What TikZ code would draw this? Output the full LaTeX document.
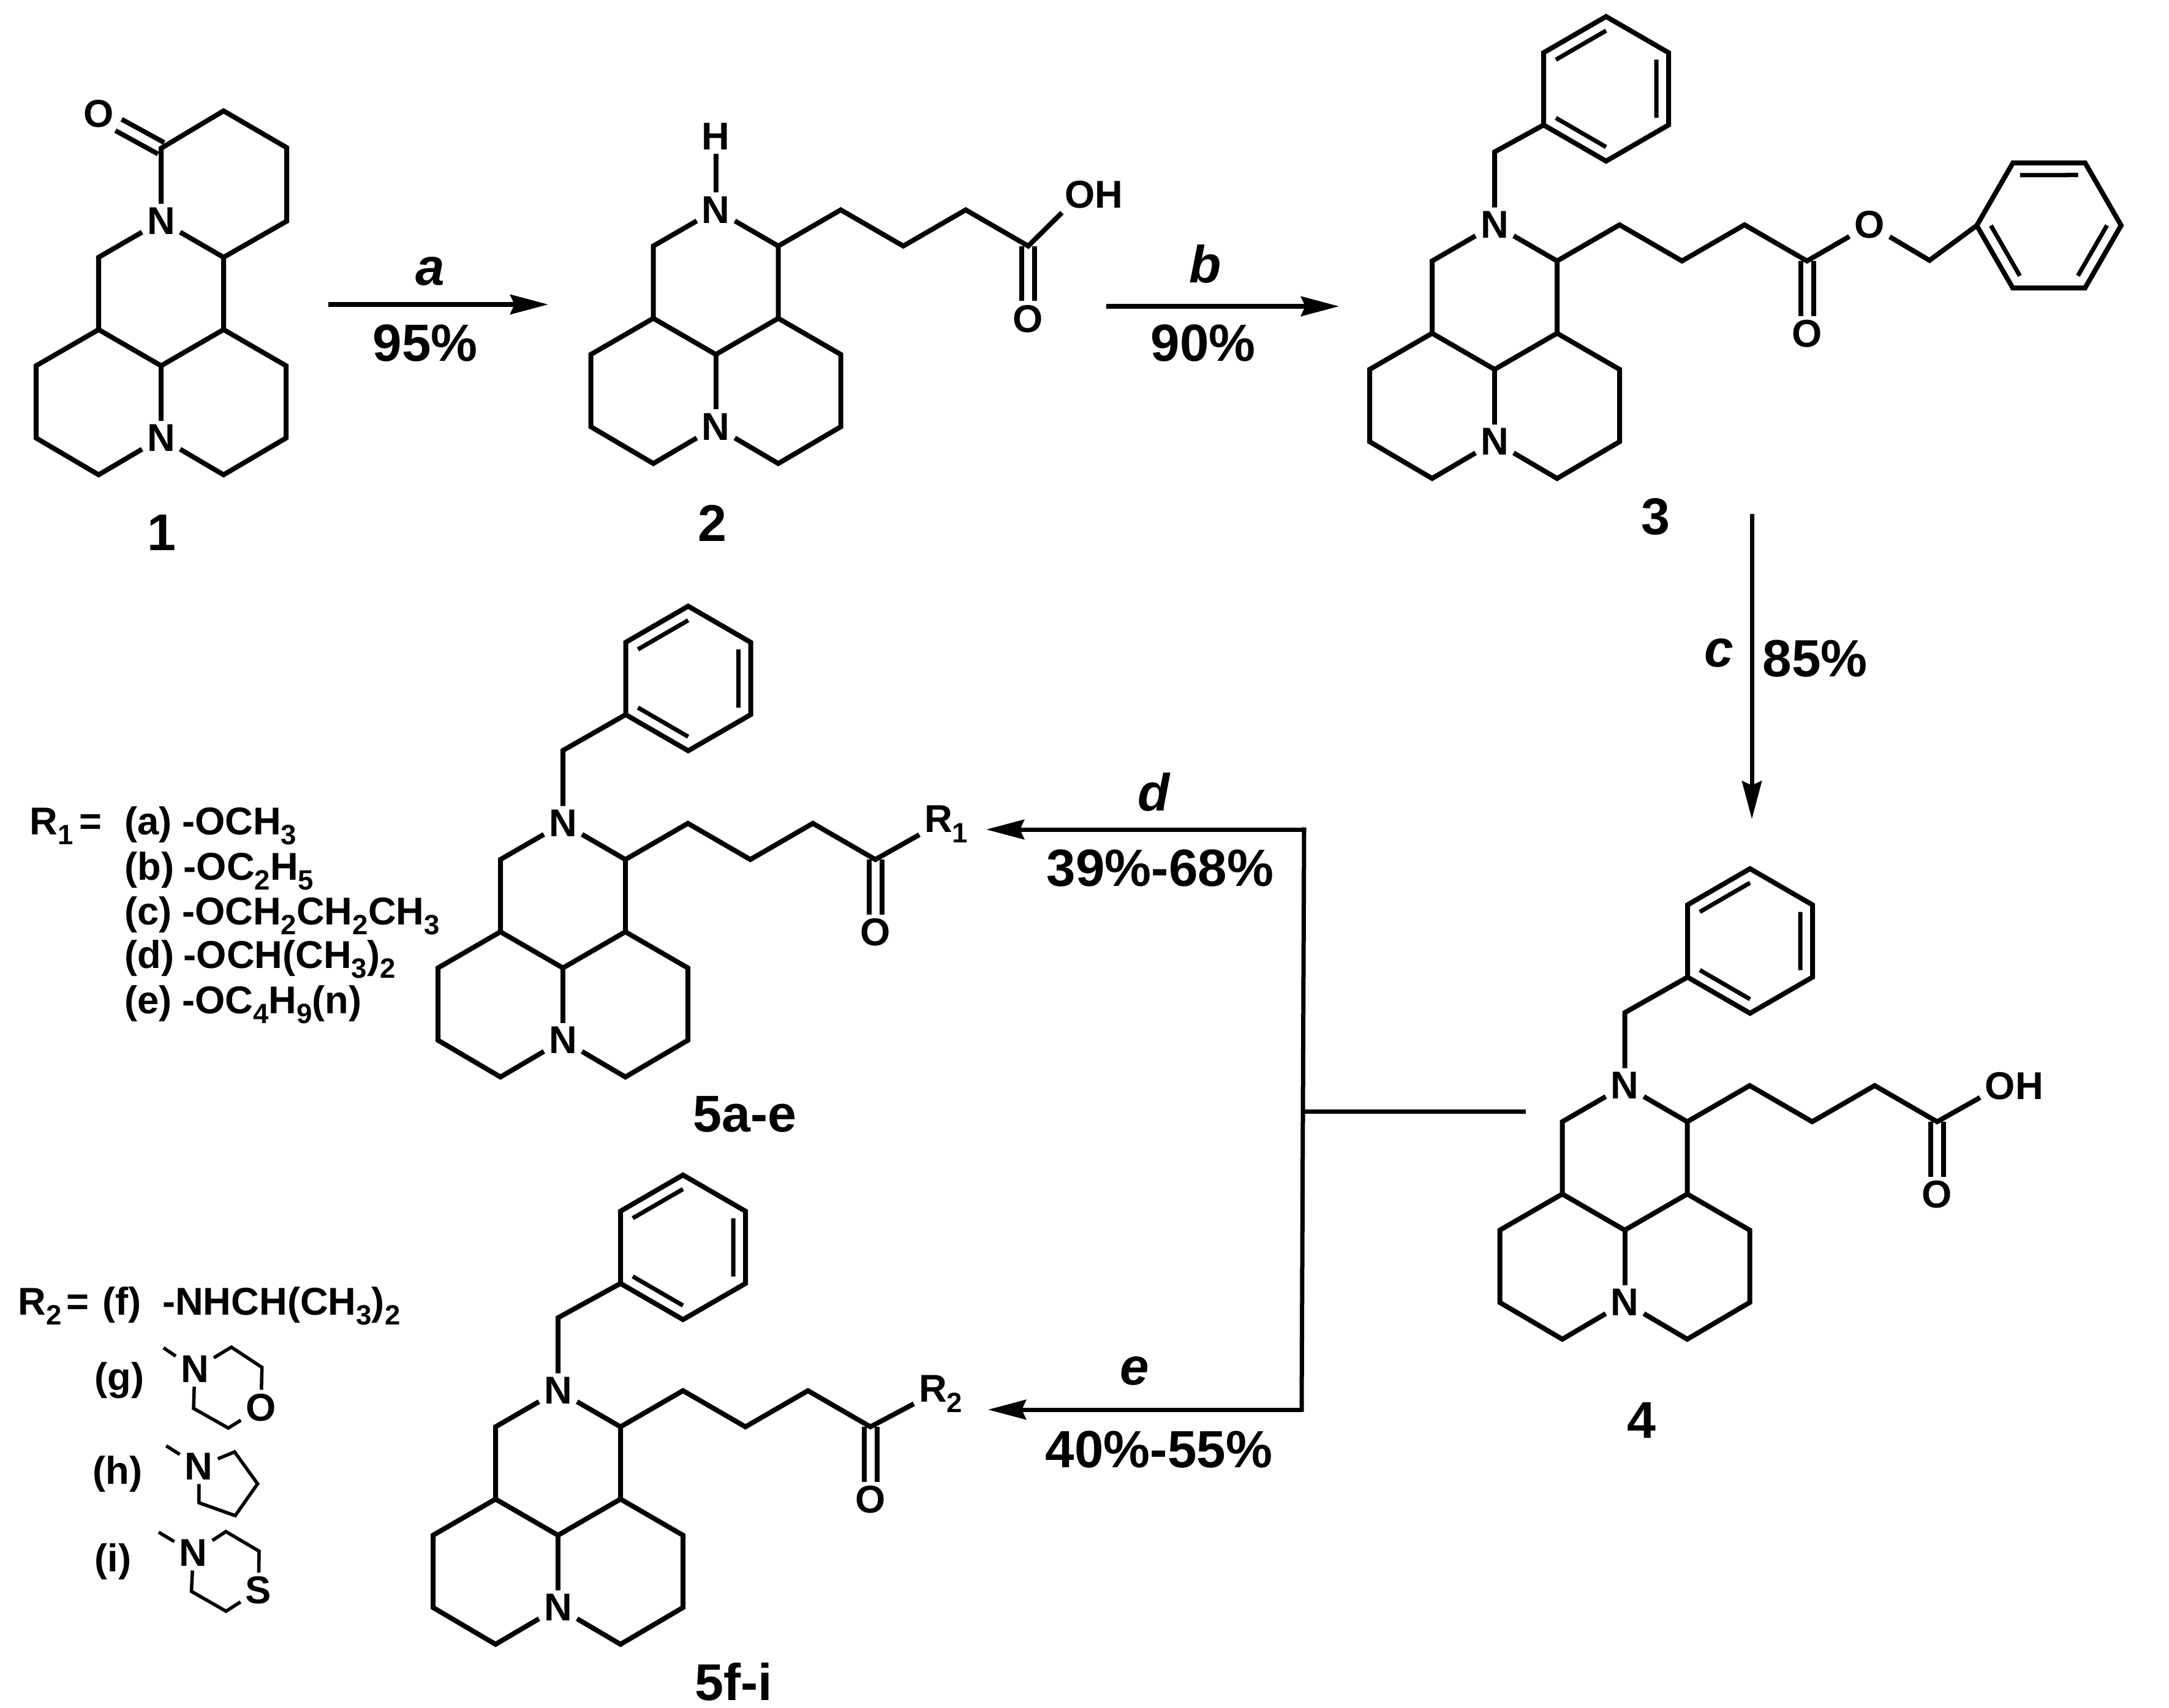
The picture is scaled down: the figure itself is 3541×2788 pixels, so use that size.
\documentclass[tikz,border=0pt]{standalone}
\usepackage{fontspec}
\setmainfont{Liberation Sans}
\usetikzlibrary{arrows.meta}
\newcommand{\sbs}[1]{\raisebox{-.26em}{\scalebox{.72}{#1}}}

\begin{document}
\begin{tikzpicture}[x=0.01cm,y=-0.01cm,
	bond/.style={line width=.08cm},
	ringbond/.style={line width=.055cm},
	dblbond/.style={line width=.08cm,double,double distance=.13cm},
	reaction/.style={line width=.07cm,-{Stealth[length=.62cm,width=.32cm,inset=.07cm]}},
	plainline/.style={line width=.07cm},
	atom/.style={font=\fontsize{18}{20}\selectfont\bfseries,inner xsep=.075cm,inner ysep=.06cm},
	listtext/.style={font=\fontsize{18}{20}\selectfont\bfseries,anchor=base west,inner sep=0pt},
	rxntext/.style={font=\fontsize{24.3}{30}\selectfont\bfseries,inner sep=0pt},
	compound/.style={font=\fontsize{24}{30}\selectfont\bfseries,inner sep=0pt}]
	
	\useasboundingbox (0,0) rectangle (3541,2788);
	
	\foreach \mol/\cx/\cy in {one/263/597, two/1168.6/578.6, three/2440/603, four/2652.5/2008, fivea/919/1580, fivef/911/2506}
	{
		\begin{scope}[shift={(\cx,\cy)}]
			\node[atom] (\mol-nb) at (0,118) {N};
			\node[atom] (\mol-nt) at (0,-236) {N};
			\coordinate (\mol-ch) at (0,-355);
			\coordinate (\mol-cr) at (102,-177);
			\draw[bond] (\mol-nb) -- (0,0);
			\draw[bond] (\mol-nb) -- (-102,178) -- (-204,118) -- (-204,0) -- (-102,-59) -- (0,0) -- (102,-59) -- (204,0) -- (204,118) -- (102,178) -- (\mol-nb);
			\draw[bond] (-102,-59) -- (-102,-177) -- (\mol-nt) -- (\mol-cr) -- (102,-59);
		\end{scope}
	};
	
	\foreach \mol/\cx/\cy/\rx/\ry/\rtext in {
		two/1168.6/578.6/594.4/-260.6/O\rlap{H},
		three/2440/603/612/-236/O,
		four/2652.5/2008/613/-235/O\rlap{H},
		fivea/919/1580/613/-235/R\rlap{\sbs{1}},
		fivef/911/2506/612/-231/R\rlap{\sbs{2}}}
	{
		\begin{scope}[shift={(\cx,\cy)}]
			\coordinate (\mol-co) at (510,-177);
			\node[atom] (\mol-o) at (510,-58) {O};
			\node[atom] (\mol-r) at (\rx,\ry) {\rtext};
			\draw[dblbond] (\mol-co) -- (\mol-o);
			\draw[bond] (\mol-cr) -- (204,-236) -- (306,-177) -- (408,-236) -- (\mol-co) -- (\mol-r);
		\end{scope}
	};
	
	\foreach \mol/\hx/\hy/\rot in {three/2622/145/0, four/2857/1536/0, fivea/1123.5/1107.5/0, fivef/1115/2036/0, ester/3345/368/-30}
	{
		\begin{scope}[shift={(\hx,\hy)},rotate=\rot]
			\coordinate (\mol-ph) at (-102,59);
			\draw[bond] (\mol-ph) -- (-102,-59) -- (0,-118) -- (102,-59) -- (102,59) -- (0,118) -- cycle;
			\draw[line width=.07cm] (-82,-47.5) -- (0,-95) (82,-47.5) -- (82,47.5) (-82,47.5) -- (0,95);
		\end{scope}
	};
	
	\foreach \mol in {three,four,fivea,fivef}
	{
		\draw[bond] (\mol-nt) -- (\mol-ch) -- (\mol-ph);
	};
	
	\coordinate (ester-ch) at (3150,425);
	\draw[bond] (three-r) -- (ester-ch) -- (ester-ph);
	
	\node[atom] (two-h) at (1168.6,223) {H};
	\draw[bond] (two-nt) -- (two-h);
	
	\node[atom] (one-o) at (160.7,186) {O};
	\coordinate (one-a) at (365,181);
	\coordinate (one-b) at (468,241);
	\coordinate (one-c) at (468,361);
	\draw[dblbond] (one-ch) -- (one-o);
	\draw[bond] (one-nt) -- (one-ch) -- (one-a) -- (one-b) -- (one-c) -- (one-cr);
	
	\foreach \name/\x/\y/\label in {one/264/869/1, two/1163/854/2, three/2703/844/3, four/2680/2318/4, fivea/1216/1819/5a-e, fivef/1198/2745/5f-i}
	{
		\node[compound] (\name-label) at (\x,\y) {\label};
	};
	
	\foreach \name/\x/\y/\label in {
		a/702/443/\textit{a}, ay/694/560/95\%,
		b/1968/431/\textit{b}, by/1964/560/90\%,
		c/2806/1066/\textit{c}, cy/2963/1075/85\%,
		d/1884/1293/\textit{d}, dy/1894/1417/39\%-68\%,
		e/1852/2238/\textit{e}, ey/1892/2366/40\%-55\%}
	{
		\node[rxntext] (\name-text) at (\x,\y) {\label};
	};
	
	\foreach \name/\sx/\sy/\ex/\ey in {a/536/497/895/497, b/1806/500/2186/500, c/2860/839/2860/1337}
	{
		\coordinate (\name-start) at (\sx,\sy);
		\coordinate (\name-tip) at (\ex,\ey);
		\draw[reaction] (\name-start) -- (\name-tip);
	};
	
	\coordinate (d-corner) at (2129,1354);
	\coordinate (d-tip) at (1610,1354);
	\coordinate (e-corner) at (2125,2301);
	\coordinate (e-tip) at (1613,2301);
	\coordinate (join) at (2127,1814);
	\coordinate (join-end) at (2491,1814);
	\draw[reaction] (d-corner) -- (d-tip);
	\draw[reaction] (e-corner) -- (e-tip);
	\draw[plainline,line cap=rect] (d-corner) -- (e-corner);
	\draw[plainline] (join) -- (join-end);
	
	\node[listtext] (r1-label) at (48,1362) {R\sbs{1}};
	\node[listtext,anchor=base] (r1-eq) at (148,1362) {=};
	\foreach \y/\tx/\tag/\chem in {
		1362/296.5/a/-OCH\sbs{3},
		1436/299/b/-OC\sbs{2}H\sbs{5},
		1509/296.5/c/-OCH\sbs{2}CH\sbs{2}CH\sbs{3},
		1580/299/d/-OCH(CH\sbs{3})\sbs{2},
		1654/296.5/e/-OC\sbs{4}H\sbs{9}(n)}
	{
		\node[listtext] (tag-\tag) at (202.6,\y) {(\tag)};
		\node[listtext] (chem-\tag) at (\tx,\y) {\chem};
	};
	
	\node[listtext] (r2-label) at (29,2146) {R\sbs{2}};
	\node[listtext,anchor=base] (r2-eq) at (127,2146) {=};
	\node[listtext] (tag-f) at (167,2146) {(f)};
	\node[listtext] (chem-f) at (264.5,2146) {-NHCH(CH\sbs{3})\sbs{2}};
	\foreach \y/\x/\tag in {2269/154/g, 2422/151/h, 2565/154/i}
	{
		\node[listtext] (tag-\tag) at (\x,\y) {(\tag)};
	};
	
	\node[atom] (g-n) at (318,2235) {N};
	\node[atom] (g-o) at (426,2297.6) {O};
	\coordinate (g-me) at (267,2200);
	\draw[ringbond] (g-me) -- (g-n);
	\draw[ringbond] (g-n) -- (377.7,2199) -- (427.7,2232) -- (g-o) -- (372.8,2331) -- (316,2299) -- (g-n);
	
	\node[atom] (h-n) at (324.6,2394) {N};
	\coordinate (h-me) at (271.4,2360);
	\draw[ringbond] (h-me) -- (h-n);
	\draw[ringbond] (h-n) -- (383,2370) -- (420.5,2422) -- (384,2474) -- (325,2453) -- (h-n);
	
	\node[atom] (i-n) at (315.6,2535) {N};
	\node[atom] (i-s) at (422,2596) {S};
	\coordinate (i-me) at (259,2501);
	\draw[ringbond] (i-me) -- (i-n);
	\draw[ringbond] (i-n) -- (368.8,2500) -- (423,2532) -- (i-s) -- (369,2630) -- (312.5,2597.6) -- (i-n);
	
\end{tikzpicture}
\end{document}
